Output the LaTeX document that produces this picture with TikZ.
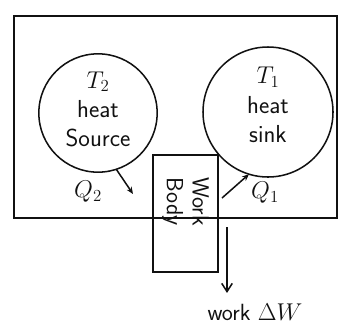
\documentclass[tikz,border=0pt]{standalone}
\usetikzlibrary{positioning,arrows.meta,calc}
\definecolor{inkC}{HTML}{111111}

\begin{document}
\begin{tikzpicture}[
  x=0.03cm, y=-0.03cm,
  >=Stealth,
  every node/.style={font=\sffamily, text=inkC},
  reservoir/.style={
    draw=inkC, circle, line width=1.3pt,
    minimum size=#1, inner sep=0pt, outer sep=0pt,
  },
  enginebox/.style={
    draw=inkC, line width=1.3pt,
    minimum width=1.95cm, minimum height=3.5cm,
    inner sep=0pt, outer sep=0pt,
  },
  heatflow/.style={-{Stealth[length=6pt,width=5pt]}, inkC, line width=1.3pt},
  workflow/.style={-{Straight Barb[length=7pt,width=9pt]}, inkC, line width=1.3pt},
  biglabel/.style={font=\sffamily\fontsize{21}{25}\selectfont, align=center},
  smalllabel/.style={font=\sffamily\fontsize{20}{22}\selectfont},
]
\useasboundingbox (0,0) rectangle (343,329);

% ── System boundary ──
\draw[inkC, line width=1.3pt] (14,16) rectangle (337,218);

% ── Heat source (T2) ──
\node[reservoir=3.55cm] (src) at (98,113) {};
\node[biglabel] (srctxt) at ([yshift=3pt]src.center) {$T_2$\\heat\\Source};

% ── Heat sink (T1) ──
\node[reservoir=3.9cm] (sink) at (268,112) {};
\node[biglabel] (sinktxt) at ([yshift=6pt]sink.center) {$T_1$\\heat\\sink};

% ── Working body ──
\node[enginebox] (body) at (185.5,213.5) {};
\node[smalllabel, rotate=-90, align=center] (bodytxt)
      at ([yshift=10pt]body.center) {Work\\Body};

% ── Heat flows ──
\coordinate (q2end) at (133,194);
\draw[heatflow] (src.-72) -- (q2end);
\node[smalllabel] (qtwo) at (88,192) {$Q_2$};
\coordinate (q1start) at (222,198);
\draw[heatflow] (q1start) -- (sink.-107);
\node[smalllabel] (qone) at (265,193) {$Q_1$};

% ── Work output ──
\coordinate (wtop) at (227,227);
\node[smalllabel, anchor=north] (work) at (255,300) {work $\Delta W$};
\draw[workflow] (wtop) -- ([yshift=6pt]wtop |- work.north);

\end{tikzpicture}
\end{document}
